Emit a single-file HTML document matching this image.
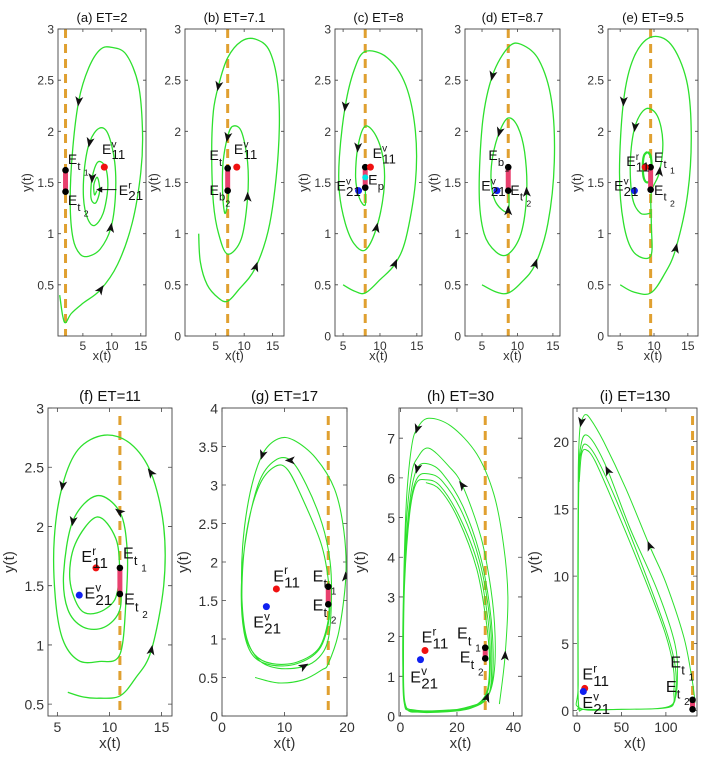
<!DOCTYPE html>
<html><head><meta charset="utf-8"><style>
html,body{margin:0;padding:0;background:#fff;}
svg{display:block;font-family:"Liberation Sans",sans-serif;}
</style></head><body>
<svg id="fig" width="712" height="759" viewBox="0 0 712 759"></svg>
<script>
// ---------- data ----------
const trajA=[[1.0,0.4],[1.5,0.2],[2,0.13],[3,0.22],[5,0.32],[8,0.45],[11,0.7],[13.5,1.1],[15,1.6],[15.3,2.0],[14.6,2.45],[12.5,2.75],[10,2.82],[8,2.8],[6,2.62],[4.3,2.3],[3.2,1.8],[2.8,1.3],[3.3,0.95],[4.5,0.8],[6,0.78],[8,0.85],[9.8,1.05],[10.6,1.35],[10.5,1.7],[9.3,1.98],[7.8,2.03],[6.2,1.9],[5.3,1.65],[5.1,1.35],[5.8,1.15],[7,1.08],[8.5,1.2],[9.3,1.45],[8.9,1.65],[7.6,1.7],[6.6,1.55],[6.4,1.35],[7.2,1.3],[7.9,1.42],[7.5,1.55],[6.9,1.48],[7.0,1.38],[7.4,1.42]];
const arrowsA=[5,15,22,27,36];
const trajB=[[2,1.0],[2.3,0.72],[3.5,0.5],[5.5,0.37],[7.1,0.34],[9,0.45],[12,0.67],[14.5,1.1],[16,1.8],[16,2.4],[14.5,2.78],[12,2.9],[9.5,2.88],[7.1,2.72],[5.5,2.45],[4.6,2.2],[4.3,1.8],[4.6,1.3],[5.5,1.0],[7.1,0.8],[9.5,0.95],[10.6,1.35],[10.6,1.7],[9.5,2.0],[8,2.05],[7.1,1.95],[6.3,1.7],[6.2,1.4],[6.6,1.2],[7.1,1.3],[7.3,1.45],[7.1,1.58],[6.95,1.5]];
const arrowsB=[6,14,21,25];
const trajC=[[5,0.5],[6.5,0.44],[8,0.42],[10,0.55],[12,0.7],[13.5,0.95],[14.8,1.5],[14.8,2.0],[13.5,2.45],[11,2.72],[8,2.78],[6.5,2.6],[5.3,2.25],[4.5,1.75],[4.5,1.4],[5.3,1.1],[6.5,0.9],[8,0.84],[9.5,1.05],[10.5,1.4],[10.5,1.7],[9.5,1.95],[8,2.05],[7,1.85],[6.7,1.55],[7.2,1.35],[8,1.28],[8,1.45]];
const arrowsC=[4,12,18,23];
const trajD=[[5,0.5],[7,0.43],[8.7,0.42],[10.5,0.52],[12.5,0.7],[14.3,1.1],[15.2,1.7],[14.8,2.3],[13,2.7],[10.5,2.85],[8.7,2.82],[6.5,2.55],[5.1,2.1],[4.6,1.4],[5.3,1.0],[7,0.82],[8.7,0.8],[10.5,1.0],[11.3,1.4],[11,1.8],[10,2.05],[8.7,2.13],[7.5,2.0],[6.5,1.75],[6.3,1.5],[7,1.3],[8.7,1.22],[8.7,1.5]];
const arrowsD=[4,11,18,22,26];
const trajE=[[5,0.5],[7,0.43],[9.5,0.42],[11.5,0.6],[13.2,0.85],[15,1.4],[15.5,2],[14.8,2.5],[12.5,2.85],[9.5,2.92],[7,2.72],[5.5,2.3],[4.9,1.6],[5.5,1.1],[7,0.82],[9.5,0.78],[9.6,1.1],[9.6,1.4],[10.8,1.6],[11.3,1.9],[10.5,2.15],[8.8,2.22],[7.2,2.05],[6.5,1.7],[6.8,1.35],[8,1.2],[9.5,1.2]];
const arrowsE=[4,11,18,22];
const cycleE=[[9,1.8],[9.5,1.76],[9.65,1.65],[9.5,1.54],[9,1.5],[8.5,1.54],[8.35,1.65],[8.5,1.76],[9,1.8]];
const trajF=[[6,0.6],[7.5,0.56],[9,0.55],[11,0.57],[12.5,0.72],[14,0.95],[15.2,1.5],[15.2,2.0],[14,2.45],[12,2.7],[9.5,2.77],[7,2.65],[5.5,2.35],[4.7,1.9],[4.8,1.4],[5.5,1.05],[7,0.87],[9,0.86],[11,0.92],[11.6,1.4],[11.7,1.8],[11,2.12],[8.8,2.26],[6.5,2.05],[5.6,1.6],[6,1.3],[7.5,1.15],[9.5,1.15],[11,1.3],[11,1.6],[10.6,1.9],[8.8,2.08],[6.7,1.85],[6.2,1.55],[7.2,1.3],[8.8,1.27],[10.5,1.38],[11,1.6]];
const arrowsF=[5,8,12,21,23];
const trajG=[[5.3,0.5],[9,0.43],[13,0.47],[16,0.6],[17,0.68],[18.7,1.1],[19.8,1.8],[19.5,2.4],[18,2.95],[15,3.35],[11.5,3.58],[9,3.6],[6.5,3.4],[4.5,2.9],[3.3,2.2],[3.2,1.5],[4,1.0],[6,0.72],[9,0.62],[13,0.64],[15.5,0.76],[17,1.0],[17.5,1.5],[17.3,2.0],[16,2.5],[13.5,3.0],[11,3.32],[8.5,3.32],[6,3.05],[4,2.4],[3.1,1.7],[3.5,1.1],[5,0.78],[8,0.66],[12,0.68],[15.5,0.86],[17,1.2],[17.2,1.6],[16,2.2],[13,2.8],[10.5,3.2],[8.5,3.24],[6,3.0],[4,2.42],[3.2,1.7],[3.6,1.1],[5.2,0.8],[8,0.68],[12,0.7],[15.5,0.88],[17,1.25],[17.1,1.6]];
const arrowsG=[6,12,19,26];
const trajH=[[35,0.3],[37,1.5],[38,3],[36.5,4.3],[33,5.6],[27,6.6],[18,7.3],[10,7.5],[6,7.25],[4,6.8],[2.2,5.5],[1.2,3.5],[0.9,1.5],[1.4,0.4],[4,0.15],[15,0.12],[25,0.25],[30.5,0.45],[33,1.0],[33.5,2.0],[32,3.2],[28.5,4.5],[22,5.8],[17,6.3],[10,6.75],[6,6.5],[4,6.1],[2,4.8],[1,2.8],[0.9,1],[2,0.2],[8,0.1],[20,0.15],[28,0.3],[32,0.7],[32.8,1.6],[31.5,2.8],[28,4.1],[22,5.3],[15,6.1],[10,6.35],[6,6.25],[3.5,5.5],[1.5,3.8],[0.9,1.8],[1.2,0.4],[4,0.12],[15,0.1],[25,0.2],[31,0.5],[32.3,1.3],[31.5,2.5],[28,3.9],[22,5.1],[15,5.9],[10,6.1],[6,6.0],[3.5,5.3],[1.5,3.6],[1,1.6],[1.3,0.35],[4,0.13],[15,0.12],[25,0.22],[30.5,0.55],[31.8,1.3],[31,2.4],[27.5,3.8],[21,5.0],[14,5.8],[9,5.95],[5.5,5.85],[3.3,5.1],[1.5,3.4],[1.1,1.5],[1.6,0.35],[5,0.15],[17,0.15],[26,0.25],[30.5,0.6],[31.5,1.3],[30.5,2.3],[27,3.7],[20.5,4.95],[14,5.7],[9,5.88]];
const arrowsH=[1,8,17,22,41];
const trajI=[[133,0.6],[129,2.5],[120,5.5],[100,9.5],[82,12.2],[55,16.5],[30,20],[15,21.7],[9,22],[5,21.5],[3,20.8],[1.5,18],[1,12],[1,4],[1.5,0.5],[5,0.12],[50,0.1],[100,0.2],[110,0.8],[113,2.5],[110,5],[90,9],[60,13.5],[35,17.8],[20,19.8],[10,20.5],[5,19.9],[2,18],[1.2,12],[1.2,4],[2,0.3],[10,0.1],[60,0.1],[104,0.3],[111,1.5],[110,3.5],[100,6],[75,10.5],[45,15.5],[22,18.8],[10,19.8],[5,19.3],[2.2,17.5],[1.3,10],[1.3,2],[3,0.2],[50,0.1],[103,0.3],[109,1.5],[108,3.4],[98,6],[72,10.5],[42,15.3],[20,18.6],[10,19.4],[5,19],[2.5,17]];
const arrowsI=[4,9,23];

// equilibrium values
const etValues=[2,7.1,8,8.7,9.5,11,17,30,130];
const eRed=[8.7,1.65];
const eBlue=[7.1,1.42];

// ---------- layout ----------
const panels=[
 {key:'a',title:'(a) ET=2',et:etValues[0],box:[58,29,146,336],xr:[0.7,15.9],yr:[0,3],xt:[5,10,15],yt:[0.5,1,1.5,2,2.5,3],traj:trajA,arr:arrowsA,t1:1.62,t2:1.41,red:true,blue:false,fs:11,lw:1.3,
  labels:[['t',2.4,1.68,'1'],['t',2.4,1.28,'2'],['sv',8.3,1.78,'v','11'],['sv',11.2,1.38,'r','21']]},
 {key:'b',title:'(b) ET=7.1',et:etValues[1],box:[185,29,284,336],xr:[-0.4,17],yr:[0,3],xt:[5,10,15],yt:[0,0.5,1,1.5,2,2.5,3],traj:trajB,arr:arrowsB,t1:1.64,t2:1.42,red:true,blue:false,fs:11,lw:1.3,
  labels:[['t',3.9,1.72,'1'],['b',3.9,1.38,'2'],['sv',8.2,1.78,'v','11']]},
 {key:'c',title:'(c) ET=8',et:etValues[2],box:[335,29,422,336],xr:[3.9,15.7],yr:[0,3],xt:[5,10,15],yt:[0,0.5,1,1.5,2,2.5,3],traj:trajC,arr:arrowsC,t1:1.65,t2:1.45,red:true,blue:true,fs:11,lw:1.3,
  labels:[['sv',9.0,1.74,'v','11'],['sv',4.1,1.42,'v','21'],['p',8.4,1.48,'p']]},
 {key:'d',title:'(d) ET=8.7',et:etValues[3],box:[465,29,560,336],xr:[2.6,16],yr:[0,3],xt:[5,10,15],yt:[0,0.5,1,1.5,2,2.5,3],traj:trajD,arr:arrowsD,t1:1.65,t2:1.42,red:false,blue:true,fs:11,lw:1.3,
  labels:[['b',5.9,1.72,'1'],['sv',4.9,1.42,'v','21'],['t',9.0,1.38,'2']]},
 {key:'e',title:'(e) ET=9.5',et:etValues[4],box:[608,29,698,336],xr:[3.2,16.5],yr:[0,3],xt:[5,10,15],yt:[0,0.5,1,1.5,2,2.5,3],traj:trajE,arr:arrowsE,t1:1.65,t2:1.43,red:true,blue:true,fs:11,lw:1.3,
  labels:[['sv',5.9,1.66,'r','11'],['t',10.0,1.7,'1'],['sv',4.1,1.42,'v','21'],['t',10.0,1.38,'2']]},
 {key:'f',title:'(f) ET=11',et:etValues[5],box:[48,408,172,716],xr:[4.1,16],yr:[0.4,3],xt:[5,10,15],yt:[0.5,1,1.5,2,2.5,3],traj:trajF,arr:arrowsF,t1:1.65,t2:1.43,red:true,blue:true,fs:13,lw:1.3,
  labels:[['sv',7.3,1.7,'r','11'],['t',11.3,1.73,'1'],['sv',7.6,1.39,'v','21'],['t',11.4,1.34,'2']]},
 {key:'g',title:'(g) ET=17',et:etValues[6],box:[222,408,347,716],xr:[0,20],yr:[0,4],xt:[0,10,20],yt:[0,0.5,1,1.5,2,2.5,3,3.5,4],traj:trajG,arr:arrowsG,t1:1.68,t2:1.45,red:true,blue:true,fs:13,lw:1.1,
  labels:[['sv',8.2,1.75,'r','11'],['t',14.5,1.75,'1'],['sv',5.0,1.15,'v','21'],['t',14.5,1.37,'2']]},
 {key:'h',title:'(h) ET=30',et:etValues[7],box:[399,408,522,716],xr:[-0.5,43],yr:[0,7.76],xt:[0,20,40],yt:[0,1,2,3,4,5,6,7],traj:trajH,arr:arrowsH,t1:1.72,t2:1.45,red:true,blue:true,fs:13,lw:1,
  labels:[['sv',7.5,1.85,'r','11'],['t',20,1.95,'1'],['sv',3.5,0.85,'v','21'],['t',21,1.35,'2']]},
 {key:'i',title:'(i) ET=130',et:etValues[8],box:[573,408,697,716],xr:[-4.5,135],yr:[-0.4,22.5],xt:[0,50,100],yt:[0,5,10,15,20],traj:trajI,arr:arrowsI,t1:0.8,t2:0.1,red:true,blue:true,fs:13,lw:1,
  labels:[['sv',6,2.3,'r','11'],['t',105,3.2,'1'],['sv',6,0.2,'v','21'],['t',100,1.4,'2']]}
];

const NS='http://www.w3.org/2000/svg';
const svg=document.getElementById('fig');
function mk(tag,parent){const e=document.createElementNS(NS,tag);parent.appendChild(e);return e;}
function smooth(p){
  let d='M'+p[0][0].toFixed(1)+','+p[0][1].toFixed(1);
  for(let i=0;i<p.length-1;i++){
    const p0=p[i-1]||p[i],p1=p[i],p2=p[i+1],p3=p[i+2]||p2;
    const c1=[p1[0]+(p2[0]-p0[0])/6,p1[1]+(p2[1]-p0[1])/6];
    const c2=[p2[0]-(p3[0]-p1[0])/6,p2[1]-(p3[1]-p1[1])/6];
    d+=' C'+c1[0].toFixed(1)+','+c1[1].toFixed(1)+' '+c2[0].toFixed(1)+','+c2[1].toFixed(1)+' '+p2[0].toFixed(1)+','+p2[1].toFixed(1);
  }
  return d;
}

panels.forEach(P=>{
  const [L,T,R,B]=P.box;
  const sx=v=>L+(v-P.xr[0])/(P.xr[1]-P.xr[0])*(R-L);
  const sy=v=>B-(v-P.yr[0])/(P.yr[1]-P.yr[0])*(B-T);
  const g=mk('g',svg);
  
  
  const clip=mk('clipPath',g);clip.setAttribute('id','clip'+P.key);
  const cr=mk('rect',clip);cr.setAttribute('x',L);cr.setAttribute('y',T);cr.setAttribute('width',R-L);cr.setAttribute('height',B-T);

  const tt=mk('text',g);
  
  
  tt.setAttribute('x',(L+R)/2);tt.setAttribute('y',T-7);tt.setAttribute('text-anchor','middle');
  tt.setAttribute('font-size',P.fs+2);tt.setAttribute('fill','#111');tt.textContent=P.title;

  const tk=P.fs>11?4:3;
  P.xt.forEach(v=>{
    const x=sx(v);
    const l=mk('path',g);l.setAttribute('d',`M${x},${B}v${-tk}M${x},${T}v${tk}`);l.setAttribute('stroke','#444');l.setAttribute('stroke-width','0.8');
    const t=mk('text',g);
    
    
    t.setAttribute('x',x);t.setAttribute('y',B+P.fs+3);t.setAttribute('text-anchor','middle');t.setAttribute('font-size',P.fs+1);t.setAttribute('fill','#333');t.textContent=v;
  });
  P.yt.forEach(v=>{
    const y=sy(v);
    const l=mk('path',g);l.setAttribute('d',`M${L},${y}h${tk}M${R},${y}h${-tk}`);l.setAttribute('stroke','#444');l.setAttribute('stroke-width','0.8');
    const t=mk('text',g);
    
    
    t.setAttribute('x',L-4);t.setAttribute('y',y+P.fs/2-1);t.setAttribute('text-anchor','end');t.setAttribute('font-size',P.fs+1);t.setAttribute('fill','#333');t.textContent=v;
  });
  const xl=mk('text',g);
  
  
  xl.setAttribute('x',(L+R)/2);xl.setAttribute('y',B+(P.fs>11?32:24));xl.setAttribute('text-anchor','middle');xl.setAttribute('font-size',P.fs+2);xl.setAttribute('fill','#333');xl.textContent='x(t)';
  const yl=mk('text',g);
  
  
  const yx=L-(P.fs>11?34:27),yy=(T+B)/2;
  yl.setAttribute('transform',`translate(${yx},${yy}) rotate(-90)`);yl.setAttribute('text-anchor','middle');yl.setAttribute('font-size',P.fs+2);yl.setAttribute('fill','#333');yl.textContent='y(t)';

  const inner=mk('g',g);inner.setAttribute('clip-path',`url(#clip${P.key})`);
  const dl=mk('line',inner);
  
  
  const ex=sx(P.et);
  dl.setAttribute('x1',ex);dl.setAttribute('x2',ex);dl.setAttribute('y1',P.key>='f'?T+8:T);dl.setAttribute('y2',B);
  dl.setAttribute('stroke','#e0a030');dl.setAttribute('stroke-width','3');dl.setAttribute('stroke-dasharray','9,6');

  const pts=P.traj.map(p=>[sx(p[0]),sy(p[1])]);
  const tr=mk('path',inner);
  
  
  tr.setAttribute('d',smooth(pts));tr.setAttribute('fill','none');tr.setAttribute('stroke','#2de02d');tr.setAttribute('stroke-width',P.lw);
  if(P.key==='e'){
    const cy=mk('path',inner);
    
    
    cy.setAttribute('d',smooth(cycleE.map(p=>[sx(p[0]),sy(p[1])])));cy.setAttribute('fill','none');cy.setAttribute('stroke','#2de02d');cy.setAttribute('stroke-width','2.2');
  }
  P.arr.forEach(i=>{
    const a=pts[i],b=pts[i+1];
    const ang=Math.atan2(b[1]-a[1],b[0]-a[0])*180/Math.PI;
    const ar=mk('path',inner);
    
    
    ar.setAttribute('d','M6,0 L-4,-4 L-1.5,0 L-4,4 Z');ar.setAttribute('fill','#111');
    ar.setAttribute('transform',`translate(${a[0].toFixed(1)},${a[1].toFixed(1)}) rotate(${ang.toFixed(1)})`);
  });
  if(P.key==='a'){
    const an=mk('path',inner);
    
    
    const y=sy(1.43);
    an.setAttribute('d',`M${sx(10.8)},${y}L${sx(7.6)},${y}`);an.setAttribute('stroke','#111');an.setAttribute('stroke-width','1');
    const ah=mk('path',inner);ah.setAttribute('d',`M${sx(7.3)},${y}l6,-3l0,6z`);ah.setAttribute('fill','#111');
  }
  const pk=mk('line',inner);
  
  
  pk.setAttribute('x1',ex);pk.setAttribute('x2',ex);pk.setAttribute('y1',sy(P.t1));pk.setAttribute('y2',sy(P.t2));pk.setAttribute('stroke','#e8406e');pk.setAttribute('stroke-width','5');
  [P.t1,P.t2].forEach(v=>{
    const c=mk('circle',inner);
    
    
    c.setAttribute('cx',ex);c.setAttribute('cy',sy(v));c.setAttribute('r',3.3);c.setAttribute('fill','#000');
  });
  if(P.key==='c'){
    const c=mk('circle',inner);
    
    
    c.setAttribute('cx',ex);c.setAttribute('cy',sy(1.55));c.setAttribute('r',3);c.setAttribute('fill','#00e5e5');
  }
  if(P.red){
    const c=mk('circle',inner);
    
    
    c.setAttribute('cx',sx(eRed[0]));c.setAttribute('cy',sy(eRed[1]));c.setAttribute('r',3.5);c.setAttribute('fill','#f01010');
  }
  if(P.blue){
    const c=mk('circle',inner);
    
    
    c.setAttribute('cx',sx(eBlue[0]));c.setAttribute('cy',sy(eBlue[1]));c.setAttribute('r',3.5);c.setAttribute('fill','#1020f0');
  }
  const fsz=P.fs>11?16:14;
  P.labels.forEach(lb=>{
    const [kind,xv,yv,a,b]=lb;
    const x=sx(xv),y=sy(yv);
    const t=mk('text',g);
    
    
    t.setAttribute('font-size',fsz);t.setAttribute('fill','#111');
    t.setAttribute('x',x);t.setAttribute('y',y);
    t.appendChild(document.createTextNode('E'));
    const ew=fsz*0.68;
    if(kind==='sv'){
      const s1=mk('tspan',t);s1.setAttribute('x',x+ew);s1.setAttribute('y',y-fsz*0.45);s1.setAttribute('font-size',fsz*0.72);s1.textContent=a;
      const s2=mk('tspan',t);s2.setAttribute('x',x+ew);s2.setAttribute('y',y+fsz*0.38);s2.setAttribute('font-size',fsz*0.95);s2.textContent=b;
    } else if(kind==='p'){
      const s1=mk('tspan',t);s1.setAttribute('x',x+ew);s1.setAttribute('y',y+fsz*0.4);s1.setAttribute('font-size',fsz*0.8);s1.textContent=a;
    } else {
      const s1=mk('tspan',t);s1.setAttribute('x',x+ew);s1.setAttribute('y',y+fsz*0.42);s1.setAttribute('font-size',fsz*0.8);s1.textContent=kind;
      const s2=mk('tspan',t);s2.setAttribute('x',x+ew+fsz*0.46);s2.setAttribute('y',y+fsz*0.82);s2.setAttribute('font-size',fsz*0.62);s2.textContent=a;
    }
  });
  const fr=mk('rect',g);
  
  
  fr.setAttribute('x',L);fr.setAttribute('y',T);fr.setAttribute('width',R-L);fr.setAttribute('height',B-T);fr.setAttribute('fill','none');fr.setAttribute('stroke','#444');fr.setAttribute('stroke-width','0.9');
});
</script>
</body></html>
